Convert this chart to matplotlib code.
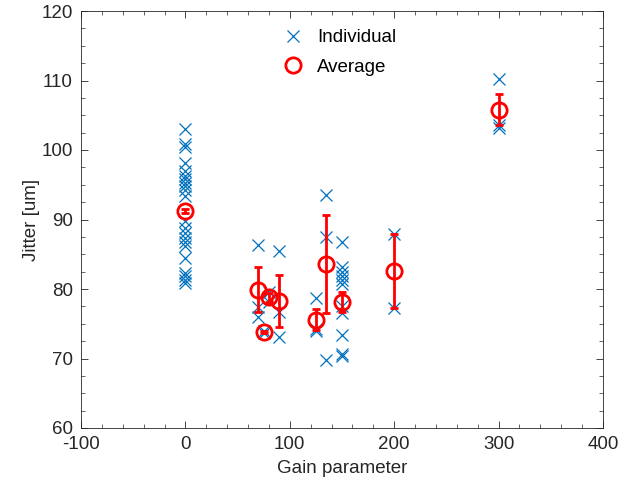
"""Jitter vs gain parameter: individual runs and averages with standard error."""
import matplotlib

matplotlib.use("Agg")
import matplotlib.pyplot as plt
from matplotlib.ticker import MultipleLocator

# individual measurements (gain, jitter in um)
ind_gain = [0] * 22 + [70, 70, 70, 75, 75, 80, 80, 90, 90, 90,
                       125, 125, 125, 135, 135, 135] + [150] * 11 + [200, 200, 300, 300, 300]
ind_jitter = [
    103.0, 100.9, 100.5, 98.2, 97.0, 96.3, 95.8, 95.3, 94.8, 94.2, 93.4,
    89.8, 88.8, 88.0, 87.3, 86.8, 86.2, 84.5, 82.3, 81.8, 81.3, 80.8,
    86.3, 77.4, 76.0, 73.9, 73.7, 79.5, 78.2, 85.4, 76.7, 73.1,
    78.7, 74.3, 74.0, 93.5, 87.5, 69.8,
    86.7, 83.1, 82.5, 81.9, 81.3, 80.7, 77.5, 76.6, 73.4, 70.6, 70.3,
    87.9, 77.3, 110.2, 103.6, 103.2,
]

# averages with standard error
avg_gain = [0, 70, 75, 80, 90, 125, 135, 150, 200, 300]
avg_jitter = [91.2, 79.9, 73.8, 78.8, 78.3, 75.6, 83.6, 78.1, 82.6, 105.8]
avg_err = [0.3, 3.2, 0.1, 0.6, 3.7, 1.5, 7.1, 1.4, 5.3, 2.2]

plt.rcParams["font.family"] = ["Liberation Sans", "DejaVu Sans"]
plt.rcParams["font.size"] = 13.5
plt.rcParams["axes.unicode_minus"] = False

fig = plt.figure(figsize=(6.22, 4.87), dpi=100)
ax = fig.add_axes([81 / 622, 1 - 428 / 487, 522 / 622, 417 / 487])

ax.plot(ind_gain, ind_jitter, "x", color="#0072BD", markersize=9,
        markeredgewidth=0.9, label="Individual")
ax.errorbar(avg_gain, avg_jitter, yerr=avg_err, fmt="o", color="red",
            markersize=11, markerfacecolor="none", markeredgewidth=2,
            elinewidth=2, capsize=3, capthick=2, label="Average")

ax.set_xlim(-100, 400)
ax.set_ylim(60, 120)
ax.xaxis.set_major_locator(MultipleLocator(100))
ax.xaxis.set_minor_locator(MultipleLocator(20))
ax.yaxis.set_major_locator(MultipleLocator(10))
ax.yaxis.set_minor_locator(MultipleLocator(2.5))
ax.tick_params(which="both", direction="in", top=True, right=True,
               color="#262626", labelcolor="#262626")
ax.tick_params(which="major", length=5, width=0.6, pad=6)
ax.tick_params(which="minor", length=3, width=0.5)
for sp in ax.spines.values():
    sp.set_color("#262626")
    sp.set_linewidth(0.6)

ax.set_xlabel("Gain parameter", color="#262626", labelpad=5)
ax.set_ylabel("Jitter [um]", color="#262626", labelpad=1)

handles, labels = ax.get_legend_handles_labels()
ax.legend([handles[0], handles[1][0]], labels, loc="upper center",
          bbox_to_anchor=(0.49, 0.997), frameon=False, handletextpad=0.5,
          labelspacing=0.65, handlelength=1.6)

fig.savefig("out.png", dpi=100)
